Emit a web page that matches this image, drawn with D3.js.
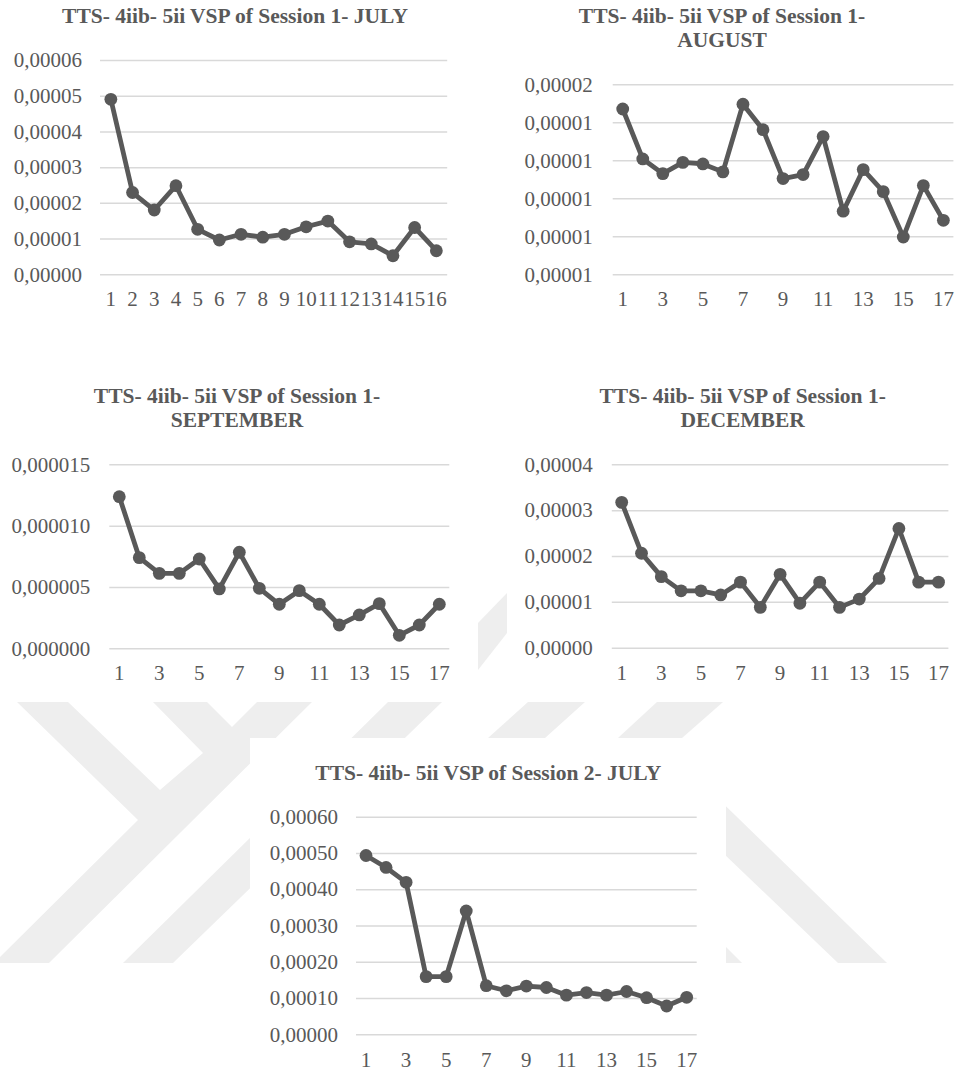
<!DOCTYPE html>
<html>
<head>
<meta charset="utf-8">
<script src="https://cdn.jsdelivr.net/npm/d3@7"></script>
<style>
  html, body { margin: 0; padding: 0; background: #fff; }
  svg { display: block; }
  text { font-family: "Liberation Serif", "Times New Roman", serif; fill: #595959; }
</style>
</head>
<body>
<svg id="page" width="955" height="1072"></svg>
<script>
// ---------- data ----------
const cats16 = d3.range(1, 17).map(String);
const cats17 = d3.range(1, 18).map(String);

const s1July = [0.0000490, 0.0000229, 0.0000180, 0.0000248, 0.0000126, 0.0000096, 0.0000112, 0.0000104,
                0.0000112, 0.0000133, 0.0000149, 0.0000091, 0.0000085, 0.0000052, 0.0000131, 0.0000066];
const s1August = [0.00001470, 0.00001207, 0.00001130, 0.00001189, 0.00001181, 0.00001139, 0.00001495, 0.00001361,
                  0.00001104, 0.00001125, 0.00001325, 0.00000932, 0.00001151, 0.00001035, 0.00000796, 0.00001067, 0.00000884];
const s1September = [0.00001236, 0.00000739, 0.00000611, 0.00000611, 0.00000728, 0.00000484, 0.00000783, 0.00000489,
                     0.00000359, 0.00000470, 0.00000359, 0.00000190, 0.00000272, 0.00000364, 0.00000106, 0.00000190, 0.00000359];
const s1December = [0.0000317, 0.0000206, 0.0000155, 0.0000124, 0.0000124, 0.0000115, 0.0000143, 0.0000088,
                    0.0000160, 0.0000097, 0.0000143, 0.0000088, 0.0000106, 0.0000151, 0.0000260, 0.0000143, 0.0000143];
const s2July = [0.000493, 0.000460, 0.000419, 0.000159, 0.000159, 0.000340, 0.000134, 0.000120,
                0.000133, 0.000129, 0.000108, 0.000115, 0.000108, 0.000118, 0.000101, 0.000078, 0.000102];

const ticks1July = [0, 0.00001, 0.00002, 0.00003, 0.00004, 0.00005, 0.00006];
const ticks1August = [0.000006, 0.000008, 0.000010, 0.000012, 0.000014, 0.000016];
const ticks1September = [0, 0.000005, 0.000010, 0.000015];
const ticks1December = [0, 0.00001, 0.00002, 0.00003, 0.00004];
const ticks2July = [0, 0.0001, 0.0002, 0.0003, 0.0004, 0.0005, 0.0006];

const title1July = ["TTS- 4iib- 5ii VSP of Session 1- JULY"];
const title1August = ["TTS- 4iib- 5ii VSP of Session 1-", "AUGUST"];
const title1September = ["TTS- 4iib- 5ii VSP of Session 1-", "SEPTEMBER"];
const title1December = ["TTS- 4iib- 5ii VSP of Session 1-", "DECEMBER"];
const title2July = ["TTS- 4iib- 5ii VSP of Session 2- JULY"];

// ---------- page ----------
const svg = d3.select("#page");
svg.append("rect").attr("width", 955).attr("height", 1072).attr("fill", "#fff");

// faint background watermark (only visible between chart areas)
const wm = svg.append("g").attr("fill", "#eeeeee");
const wmShapes = [
  [[17,702],[68,702],[160,790],[203,753],[153,702],[207,702],[232,727],[257,702],[312,702],[49,963],[-5,963],[-5,962],[138,820]],
  [[388,702],[442,702],[173,963],[123,963]],
  [[528,702],[585,702],[545,738],[488,738]],
  [[657,702],[723,702],[682,738],[618,738]],
  [[700,781],[887,963],[838,963],[700,831]],
  [[700,921],[742,963],[700,963]],
  [[478,623],[507,593],[507,633],[478,670]]
];
wmShapes.forEach(p => wm.append("polygon").attr("points", p.map(d => d.join(",")).join(" ")));
// white panel of the lower chart
svg.append("rect").attr("x", 250).attr("y", 738).attr("width", 476).attr("height", 334).attr("fill", "#fff");

const fmt = (dec) => (v) => d3.format("." + dec + "f")(v).replace(".", ",");

function drawChart(cfg) {
  const g = svg.append("g");
  const x = d3.scaleBand().domain(cfg.cats).range([cfg.x0, cfg.x1]).padding(0);
  const y = d3.scaleLinear().domain([cfg.ticks[0], cfg.ticks[cfg.ticks.length - 1]]).range([cfg.yBot, cfg.yTop]);

  // title
  const t = g.append("text")
    .attr("x", cfg.tx).attr("y", cfg.ty)
    .attr("text-anchor", "middle")
    .style("font-size", "21.5px").style("font-weight", "bold");
  cfg.title.forEach((line, i) => t.append("tspan").attr("x", cfg.tx).attr("dy", i === 0 ? 0 : 24).text(line));

  // y axis with gridlines
  const ya = g.append("g").attr("transform", `translate(${cfg.x0},0)`)
    .call(d3.axisLeft(y).tickValues(cfg.ticks).tickSize(-(cfg.x1 - cfg.x0)).tickFormat(fmt(cfg.dec)).tickPadding(cfg.lpad));
  ya.select(".domain").remove();
  ya.attr("font-family", null);
  ya.selectAll(".tick line").attr("stroke", "#d9d9d9").attr("stroke-width", 1.5);
  ya.selectAll(".tick text").style("font-size", "21px").attr("fill", "#595959")
    .style("font-family", '"Liberation Serif", "Times New Roman", serif');

  // x axis labels
  const xa = g.append("g").attr("transform", `translate(0,${cfg.yBot})`)
    .call(d3.axisBottom(x).tickValues(cfg.cats.filter((c, i) => i % cfg.step === 0)).tickSize(0).tickPadding(cfg.xpad));
  xa.select(".domain").remove();
  xa.attr("font-family", null);
  xa.selectAll(".tick text").style("font-size", "21px").attr("fill", "#595959")
    .style("font-family", '"Liberation Serif", "Times New Roman", serif');

  // series
  const cx = (d, i) => x(cfg.cats[i]) + x.bandwidth() / 2;
  const line = d3.line().x(cx).y(d => y(d));
  g.append("path").datum(cfg.values)
    .attr("d", line).attr("fill", "none")
    .attr("stroke", "#595959").attr("stroke-width", 4.8).attr("stroke-linejoin", "round");
  g.selectAll("circle.pt").data(cfg.values).enter().append("circle")
    .attr("class", "pt").attr("cx", cx).attr("cy", d => y(d)).attr("r", 6.4).attr("fill", "#595959");
}

drawChart({ cats: cats16, values: s1July, ticks: ticks1July, dec: 5, title: title1July,
  x0: 100, x1: 447.2, yTop: 60, yBot: 274.3, tx: 235, ty: 22.5, step: 1, lpad: 18, xpad: 17 });
drawChart({ cats: cats17, values: s1August, ticks: ticks1August, dec: 5, title: title1August,
  x0: 612.7, x1: 953.4, yTop: 84.3, yBot: 274.3, tx: 722, ty: 22.5, step: 2, lpad: 20, xpad: 17 });
drawChart({ cats: cats17, values: s1September, ticks: ticks1September, dec: 6, title: title1September,
  x0: 109.3, x1: 449.3, yTop: 464.3, yBot: 648.3, tx: 237, ty: 402.5, step: 2, lpad: 19, xpad: 17 });
drawChart({ cats: cats17, values: s1December, ticks: ticks1December, dec: 5, title: title1December,
  x0: 611.8, x1: 948.4, yTop: 464.3, yBot: 647.7, tx: 742.7, ty: 402.5, step: 2, lpad: 19, xpad: 17 });
drawChart({ cats: cats17, values: s2July, ticks: ticks2July, dec: 5, title: title2July,
  x0: 356, x1: 696.7, yTop: 816.7, yBot: 1034.3, tx: 488.3, ty: 780, step: 2, lpad: 18, xpad: 18 });
</script>
</body>
</html>
